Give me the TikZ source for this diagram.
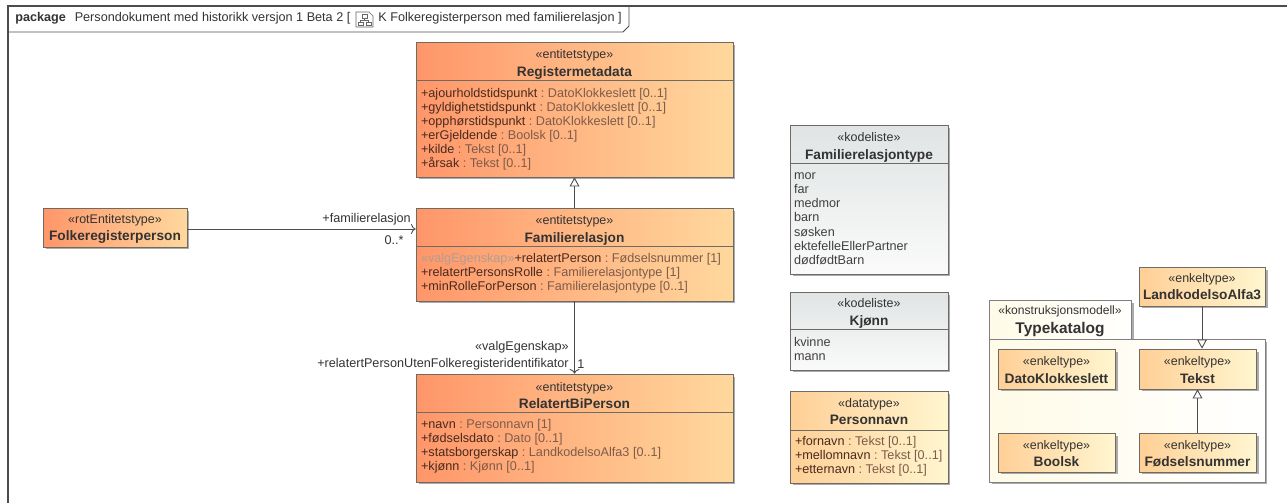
\documentclass[tikz,border=0pt]{standalone}
\usepackage{fontspec}
\setmainfont{Liberation Sans}
\usetikzlibrary{calc,shadows,arrows.meta}

\definecolor{uml line}{HTML}{6F6A62}
\definecolor{attr name}{HTML}{4A2A1E}
\definecolor{attr type}{HTML}{7E5C4A}
\newcommand{\attr}[2]{\textcolor{attr name}{+#1}\textcolor{attr type}{\ :\ #2}}
\newcommand{\boxname}[1]{{\fontsize{7.8pt}{10pt}\selectfont\textbf{#1}}}

\begin{document}
\begin{tikzpicture}[x=0.02cm, y=-0.02cm]

    \tikzstyle{umlbox}=[draw=uml line, line width=0.4pt, inner sep=0pt, drop shadow={shadow xshift=0.05cm, shadow yshift=-0.05cm, fill=black!55, opacity=0.6}];
    \tikzstyle{entity}=[umlbox, left color={rgb,255:red,255;green,150;blue,105}, right color={rgb,255:red,255;green,216;blue,158}];
    \tikzstyle{datatype}=[umlbox, left color={rgb,255:red,255;green,207;blue,150}, right color={rgb,255:red,255;green,246;blue,208}];
    \tikzstyle{kodeliste}=[umlbox, top color={rgb,255:red,224;green,228;blue,228}, bottom color={rgb,255:red,250;green,250;blue,250}];
    \tikzstyle{head}=[inner sep=0pt, align=center, text=black!80, font=\fontsize{7.1pt}{10pt}\selectfont];
    \tikzstyle{attrs}=[inner sep=0pt, anchor=north west, align=left, text=black!75, font=\fontsize{7.2pt}{8pt}\selectfont];
    \tikzstyle{lbl}=[inner sep=0pt, text=black!80, font=\fontsize{7.2pt}{8pt}\selectfont];
    \tikzstyle{divider}=[draw=uml line, line width=0.4pt];
    \tikzstyle{conn}=[draw=black!70, line width=0.5pt];
    \tikzstyle{general}=[conn, -{Triangle[open, length=5.2pt, width=5.6pt, fill=white]}];

    \useasboundingbox (0,0) rectangle (1287,503);

    \draw[conn, line width=0.7pt] (1287,6) -- (8,6) -- (8,503);
    \draw[conn] (8,32) -- (623,32) -- (629,26) -- (629,6);
    \node[lbl, anchor=west] (pkg) at (15,18.5) {\textbf{package}\hspace{3pt} Persondokument med historikk versjon 1 Beta 2 [};
    \node[lbl, anchor=west] (pkgname) at (378,18.5) {K Folkeregisterperson med familierelasjon ]};
    \draw[draw=black!60, line width=0.3pt] (356,12) -- (369,12) -- (373,16) -- (373,27) -- (356,27) -- cycle;
    \draw[draw=black!60, line width=0.3pt] (362,14) rectangle (367,18) (358,22) rectangle (363,25) (366,22) rectangle (371,25) (364.5,18) -- (364.5,20) (360.5,22) -- (360.5,20) -- (368.5,20) -- (368.5,22);

    \node[entity, minimum width=6.34cm, minimum height=2.7cm] (reg) at (574.5,109.5) {};
    \node[head] (reghead) at ($(reg.north)+(0,22.5)$) {«entitetstype»\\\boxname{Registermetadata}};
    \draw[divider] ($(reg.north west)+(0,39)$) -- ($(reg.north east)+(0,39)$);
    \node[attrs] (regattrs) at ($(reg.north west)+(5,46.5)$) {\attr{ajourholdstidspunkt}{DatoKlokkeslett [0..1]}\\\attr{gyldighetstidspunkt}{DatoKlokkeslett [0..1]}\\\attr{opphørstidspunkt}{DatoKlokkeslett [0..1]}\\\attr{erGjeldende}{Boolsk [0..1]}\\\attr{kilde}{Tekst [0..1]}\\\attr{årsak}{Tekst [0..1]}};

    \node[entity, minimum width=2.88cm, minimum height=0.78cm] (folk) at (115,227.5) {};
    \node[head] (folkhead) at ($(folk)+(0,1.5)$) {«rotEntitetstype»\\\boxname{Folkeregisterperson}};

    \node[entity, minimum width=6.34cm, minimum height=1.86cm] (fam) at (574.5,254.5) {};
    \node[head] (famhead) at ($(fam.north)+(0,22.5)$) {«entitetstype»\\\boxname{Familierelasjon}};
    \draw[divider] ($(fam.north west)+(0,39)$) -- ($(fam.north east)+(0,39)$);
    \node[attrs] (famattrs) at ($(fam.north west)+(5,45)$) {\textcolor{attr type!60}{«valgEgenskap»}\attr{relatertPerson}{Fødselsnummer [1]}\\\attr{relatertPersonsRolle}{Familierelasjontype [1]}\\\attr{minRolleForPerson}{Familierelasjontype [0..1]}};

    \node[entity, minimum width=6.34cm, minimum height=2.16cm] (bi) at (574.5,428) {};
    \node[head] (bihead) at ($(bi.north)+(0,22)$) {«entitetstype»\\\boxname{RelatertBiPerson}};
    \draw[divider] ($(bi.north west)+(0,39)$) -- ($(bi.north east)+(0,39)$);
    \node[attrs] (biattrs) at ($(bi.north west)+(5,45.5)$) {\attr{navn}{Personnavn [1]}\\\attr{fødselsdato}{Dato [0..1]}\\\attr{statsborgerskap}{LandkodelsoAlfa3 [0..1]}\\\attr{kjønn}{Kjønn [0..1]}};

    \node[kodeliste, minimum width=3.16cm, minimum height=2.98cm] (famtype) at (869,199.5) {};
    \node[head] (famtypehead) at ($(famtype.north)+(0,22.5)$) {«kodeliste»\\\boxname{Familierelasjontype}};
    \draw[divider] ($(famtype.north west)+(0,39)$) -- ($(famtype.north east)+(0,39)$);
    \node[attrs] (famtypeattrs) at ($(famtype.north west)+(4,48)$) {mor\\far\\medmor\\barn\\søsken\\ektefelleEllerPartner\\dødfødtBarn};

    \node[kodeliste, minimum width=3.16cm, minimum height=1.56cm] (kjonn) at (869,331) {};
    \node[head] (kjonnhead) at ($(kjonn.north)+(0,22)$) {«kodeliste»\\\boxname{Kjønn}};
    \draw[divider] ($(kjonn.north west)+(0,38)$) -- ($(kjonn.north east)+(0,38)$);
    \node[attrs] (kjonnattrs) at ($(kjonn.north west)+(4,45)$) {kvinne\\mann};

    \node[datatype, minimum width=3.16cm, minimum height=1.84cm] (navn) at (869,437) {};
    \node[head] (navnhead) at ($(navn.north)+(0,21)$) {«datatype»\\\boxname{Personnavn}};
    \draw[divider] ($(navn.north west)+(0,40)$) -- ($(navn.north east)+(0,40)$);
    \node[attrs] (navnattrs) at ($(navn.north west)+(5,45)$) {\attr{fornavn}{Tekst [0..1]}\\\attr{mellomnavn}{Tekst [0..1]}\\\attr{etternavn}{Tekst [0..1]}};

    \node[umlbox, draw=black!50, left color={rgb,255:red,255;green,251;blue,232}, right color=white, minimum width=2.84cm, minimum height=0.78cm] (kattab) at (1060,319.5) {};
    \node[umlbox, draw=black!50, left color={rgb,255:red,255;green,251;blue,232}, right color=white, minimum width=5.52cm, minimum height=2.86cm] (katalog) at (1127,410.5) {};
    \node[head, font=\fontsize{6.9pt}{10pt}\selectfont] (katstereo) at (1060,311) {«konstruksjonsmodell»};
    \node[head, font=\fontsize{8.8pt}{10pt}\selectfont\bfseries] (katname) at (1060,330) {Typekatalog};

    \node[datatype, minimum width=2.52cm, minimum height=0.78cm] (land) at (1202,286.5) {};
    \node[head] (landhead) at (land) {«enkeltype»\\\boxname{LandkodelsoAlfa3}};

    \node[datatype, minimum width=2.34cm, minimum height=0.8cm] (dato) at (1056.5,369) {};
    \node[head] (datohead) at ($(dato)+(0,1)$) {«enkeltype»\\\boxname{DatoKlokkeslett}};
    \node[datatype, minimum width=2.34cm, minimum height=0.8cm] (tekst) at (1197.5,369) {};
    \node[head] (teksthead) at ($(tekst)+(0,1)$) {«enkeltype»\\\boxname{Tekst}};
    \node[datatype, minimum width=2.34cm, minimum height=0.78cm] (boolsk) at (1056.5,452.5) {};
    \node[head] (boolskhead) at ($(boolsk)+(0,1)$) {«enkeltype»\\\boxname{Boolsk}};
    \node[datatype, minimum width=2.34cm, minimum height=0.78cm] (fodsel) at (1197.5,452.5) {};
    \node[head] (fodselhead) at ($(fodsel)+(0,1)$) {«enkeltype»\\\boxname{Fødselsnummer}};

    \draw[general] (fam.north) -- (reg.south);
    \draw[conn, ->] ($(folk.east)+(0,1.5)$) -- ($(folk.east -| fam.west)+(0,1.5)$);
    \draw[conn, ->] (fam.south) -- (bi.north);
    \draw[general] (land.south) -- (land.south |- tekst.north);
    \draw[general] (fodsel.north) -- (tekst.south);

    \node[lbl, anchor=east] (famrole) at (411,219) {+familierelasjon};
    \node[lbl] (fammult) at (394,240) {0..*};
    \node[lbl, anchor=east] (valg) at (569,347) {«valgEgenskap»};
    \node[lbl, anchor=east] (birole) at (569,364) {+relatertPersonUtenFolkeregisteridentifikator};
    \node[lbl] (bimult) at (581,364) {1};
\end{tikzpicture}
\end{document}
